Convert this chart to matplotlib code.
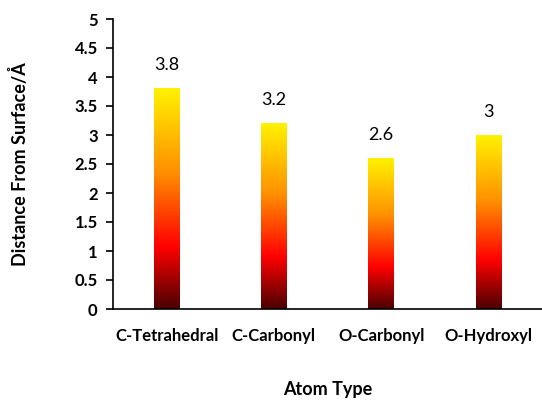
import numpy as np
import matplotlib
matplotlib.use("Agg")
import matplotlib.pyplot as plt
from matplotlib.colors import LinearSegmentedColormap

categories = ["C-Tetrahedral", "C-Carbonyl", "O-Carbonyl", "O-Hydroxyl"]
values = [3.8, 3.2, 2.6, 3.0]
value_labels = ["3.8", "3.2", "2.6", "3"]
yticks = [0, 0.5, 1, 1.5, 2, 2.5, 3, 3.5, 4, 4.5, 5]
ytick_labels = ["0", "0.5", "1", "1.5", "2", "2.5", "3", "3.5", "4", "4.5", "5"]

plt.rcParams['font.family'] = ['Lato', 'DejaVu Sans']

fig = plt.figure(figsize=(5.42, 4.01), dpi=100)
ax = fig.add_axes([113/542, 1-309/401, 1-113/542, 290/401])

cmap = LinearSegmentedColormap.from_list(
    "grad", [(0.0, "#4a0000"), (0.28, "#ff0000"), (0.62, "#ff9000"), (1.0, "#fff200")])

x = np.arange(len(categories))
bars = ax.bar(x, values, width=0.24, color="none", edgecolor="none")
grad = np.linspace(0, 1, 256).reshape(-1, 1)
for b in bars:
    x0, y0 = b.get_x(), b.get_y()
    w, h = b.get_width(), b.get_height()
    ax.imshow(grad, cmap=cmap, origin="lower", aspect="auto",
              extent=[x0, x0 + w, y0, y0 + h], zorder=2)

for xi, v, lab in zip(x, values, value_labels):
    ax.text(xi, v + 0.4, lab, ha="center", va="center", fontsize=13)

ax.set_xlim(-0.5, len(categories) - 0.5)
ax.set_ylim(0, 5)
ax.set_yticks(yticks)
ax.set_yticklabels(ytick_labels, fontsize=12, fontweight="bold")
ax.set_xticks(x)
ax.set_xticklabels(categories, fontsize=12, fontweight="bold")
ax.tick_params(axis="x", length=0, pad=14)
ax.tick_params(axis="y", length=5, direction="out", width=1.2, pad=6)
ax.spines["top"].set_visible(False)
ax.spines["right"].set_visible(False)
ax.spines["left"].set_linewidth(1.2)
ax.spines["bottom"].set_linewidth(1.2)

ax.set_ylabel("Distance From Surface/Å", fontsize=13, fontweight="bold", va="center")
ax.yaxis.set_label_coords((20-113)/429, 0.5)
ax.set_xlabel("Atom Type", fontsize=13, fontweight="bold", va="center")
ax.xaxis.set_label_coords(0.5, (309-390)/290)

fig.savefig("out.png", dpi=100)
